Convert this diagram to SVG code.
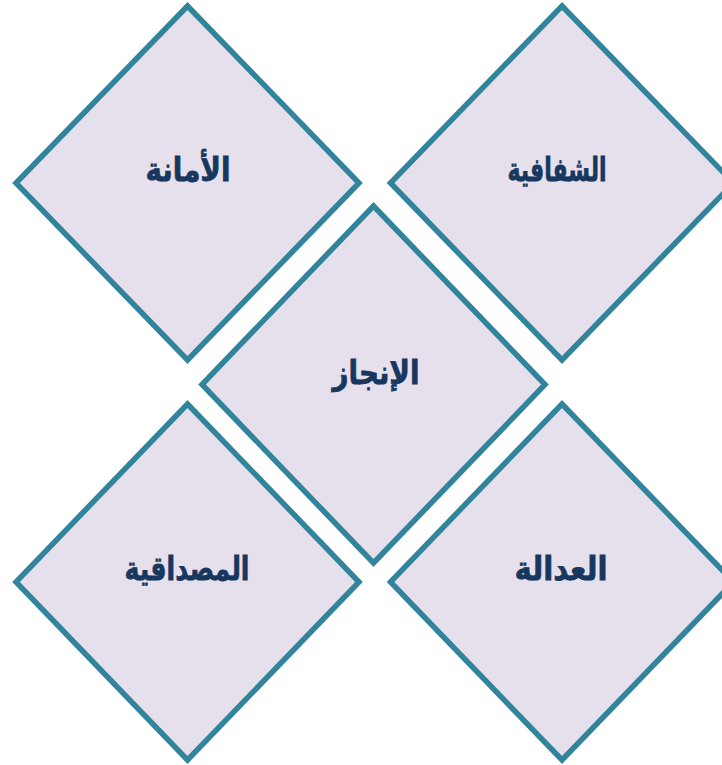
<svg xmlns="http://www.w3.org/2000/svg" width="722" height="765" viewBox="0 0 722 765">
<style>
.d{fill:#E6E0EC;stroke:#31849B;stroke-width:5.5;stroke-linejoin:miter}
.t{font-family:"DejaVu Sans","Noto Sans",sans-serif;font-weight:bold;font-size:33px;fill:#17375E;stroke:#17375E;stroke-width:0.8;text-anchor:middle;direction:rtl}
</style>
<rect width="722" height="765" fill="#FFFFFF"/>
<g id="amana">
<polygon class="d" points="187.5,6 359,183 187.5,360 16,183"/>
<text class="t" x="188" y="181" textLength="85" lengthAdjust="spacingAndGlyphs">الأمانة</text>
</g>
<g id="shafafiya">
<polygon class="d" points="562,6 733.5,183 562,360 390.5,183"/>
<text class="t" x="557" y="181" textLength="99" lengthAdjust="spacingAndGlyphs">الشفافية</text>
</g>
<g id="injaz">
<polygon class="d" points="373.5,206 545,384.5 373.5,563 202,384.5"/>
<text class="t" x="376" y="384" textLength="87" lengthAdjust="spacingAndGlyphs">الإنجاز</text>
</g>
<g id="misdaqiya">
<polygon class="d" points="187.5,404 359,582 187.5,760 16,582"/>
<text class="t" x="187" y="580" textLength="125" lengthAdjust="spacingAndGlyphs">المصداقية</text>
</g>
<g id="adala">
<polygon class="d" points="562,404 733.5,582 562,760 390.5,582"/>
<text class="t" x="561" y="580" textLength="93" lengthAdjust="spacingAndGlyphs">العدالة</text>
</g>
<g id="connectors"></g>
</svg>
